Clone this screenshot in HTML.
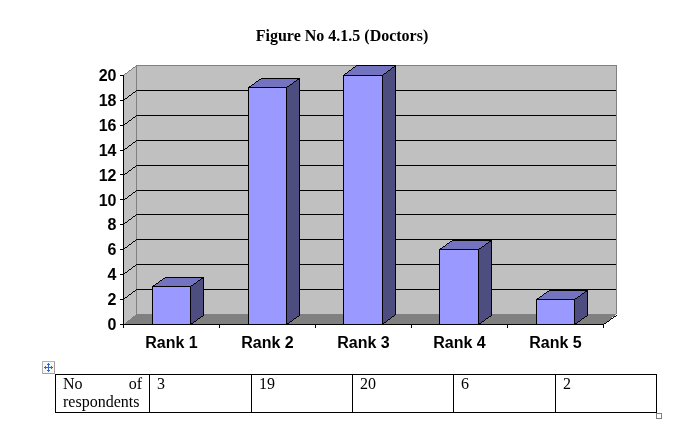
<!DOCTYPE html>
<html><head><meta charset="utf-8"><title>Figure No 4.1.5 (Doctors)</title>
<style>
html,body{margin:0;padding:0;background:#fff;}
body{width:699px;height:429px;position:relative;overflow:hidden;font-family:"Liberation Serif","Times New Roman",serif;color:#000;}
.title{position:absolute;left:0;width:684px;top:27px;text-align:center;font-weight:bold;font-size:16px;line-height:18px;}
svg{position:absolute;left:0;top:0;}
.yl{position:absolute;left:60.5px;width:56px;text-align:right;font:bold 16px/18px "Liberation Sans",Arial,sans-serif;}
.xl{position:absolute;top:334px;width:96px;text-align:center;font:bold 16px/18px "Liberation Sans",Arial,sans-serif;}
table{position:absolute;left:55px;top:374px;border-collapse:collapse;table-layout:fixed;font-size:16px;line-height:18px;}
td{border:1px solid #000;vertical-align:top;padding:0 7px;height:38px;box-sizing:border-box;}
.rs{position:absolute;left:656px;top:413px;width:4px;height:4px;border:1px solid #808080;background:#fff;}
</style></head><body>
<div class="title">Figure No 4.1.5 (Doctors)</div>
<svg width="699" height="429" viewBox="0 0 699 429" shape-rendering="crispEdges">
<rect x="136" y="65" width="481" height="249" fill="#c0c0c0"/>
<polygon points="123.5,324.5 136.5,314 136.5,65 123.5,75" fill="#c0c0c0"/>
<polygon points="123.5,324.5 136.5,314 617,314 603.5,324.5" fill="#808080"/>
<path d="M136 65h481v1h-481zM135 66h2v1h-2zM616 66h1v248h-1zM133 67h2v1h-2zM136 67h1v247h-1zM132 68h1v1h-1zM131 69h1v1h-1zM129 70h2v1h-2zM128 71h1v1h-1zM127 72h1v1h-1zM125 73h2v1h-2zM124 74h1v1h-1zM123 75h1v1h-1z" fill="#808080"/>
<path d="M136 90h480v1h-480zM135 91h1v1h-1zM133 92h2v1h-2zM132 93h1v1h-1zM131 94h1v1h-1zM129 95h2v1h-2zM128 96h1v1h-1zM127 97h1v1h-1zM125 98h2v1h-2zM124 99h1v1h-1zM123 100h1v1h-1zM136 115h480v1h-480zM135 116h1v1h-1zM133 117h2v1h-2zM132 118h1v1h-1zM131 119h1v1h-1zM129 120h2v1h-2zM128 121h1v1h-1zM127 122h1v1h-1zM125 123h2v1h-2zM124 124h1v1h-1zM123 125h1v1h-1zM136 140h480v1h-480zM135 141h1v1h-1zM133 142h2v1h-2zM132 143h1v1h-1zM131 144h1v1h-1zM129 145h2v1h-2zM128 146h1v1h-1zM127 147h1v1h-1zM125 148h2v1h-2zM124 149h1v1h-1zM123 150h1v1h-1zM136 165h480v1h-480zM135 166h1v1h-1zM133 167h2v1h-2zM132 168h1v1h-1zM131 169h1v1h-1zM129 170h2v1h-2zM128 171h1v1h-1zM127 172h1v1h-1zM125 173h2v1h-2zM124 174h1v1h-1zM123 175h1v1h-1zM136 190h480v1h-480zM135 191h1v1h-1zM133 192h2v1h-2zM132 193h1v1h-1zM131 194h1v1h-1zM129 195h2v1h-2zM128 196h1v1h-1zM127 197h1v1h-1zM125 198h2v1h-2zM124 199h1v1h-1zM123 200h1v1h-1zM136 214h480v1h-480zM135 215h1v1h-1zM133 216h2v1h-2zM132 217h1v1h-1zM131 218h1v1h-1zM129 219h2v1h-2zM128 220h1v1h-1zM127 221h1v1h-1zM125 222h2v1h-2zM124 223h1v1h-1zM123 224h1v1h-1zM136 239h480v1h-480zM135 240h1v1h-1zM133 241h2v1h-2zM132 242h1v1h-1zM131 243h1v1h-1zM129 244h2v1h-2zM128 245h1v1h-1zM127 246h1v1h-1zM125 247h2v1h-2zM124 248h1v1h-1zM123 249h1v1h-1zM136 264h480v1h-480zM135 265h1v1h-1zM133 266h2v1h-2zM132 267h1v1h-1zM131 268h1v1h-1zM129 269h2v1h-2zM128 270h1v1h-1zM127 271h1v1h-1zM125 272h2v1h-2zM124 273h1v1h-1zM123 274h1v1h-1zM136 289h480v1h-480zM135 290h1v1h-1zM133 291h2v1h-2zM132 292h1v1h-1zM131 293h1v1h-1zM129 294h2v1h-2zM128 295h1v1h-1zM127 296h1v1h-1zM125 297h2v1h-2zM124 298h1v1h-1zM123 299h1v1h-1zM616 315h1v1h-1zM614 316h2v1h-2zM613 317h1v1h-1zM611 318h2v1h-2zM610 319h1v1h-1zM609 320h1v1h-1zM607 321h2v1h-2zM606 322h1v1h-1zM604 323h2v1h-2zM603 324h1v1h-1z" fill="#000"/>
<polygon points="152.5,286.5 165.5,277.5 203.5,277.5 190.5,286.5" fill="#7373bf"/>
<polygon points="190.5,286.5 203.5,277.5 203.5,315.5 190.5,324.5" fill="#4d4d80"/>
<rect x="152" y="286" width="39" height="39" fill="#9999ff"/>
<path d="M165 277h39v1h-39zM163 278h2v1h-2zM201 278h3v1h-3zM162 279h1v1h-1zM200 279h1v1h-1zM203 279h1v37h-1zM160 280h2v1h-2zM198 280h2v1h-2zM159 281h1v1h-1zM197 281h1v1h-1zM158 282h1v1h-1zM196 282h1v1h-1zM156 283h2v1h-2zM194 283h2v1h-2zM155 284h1v1h-1zM193 284h1v1h-1zM153 285h2v1h-2zM191 285h2v1h-2zM152 286h39v1h-39zM152 287h1v38h-1zM190 287h1v36h-1zM201 316h2v1h-2zM200 317h1v1h-1zM198 318h2v1h-2zM197 319h1v1h-1zM196 320h1v1h-1zM194 321h2v1h-2zM193 322h1v1h-1zM190 323h3v1h-3zM190 324h1v1h-1z" fill="#000"/>
<polygon points="248.5,87.5 261.5,78.5 299.5,78.5 286.5,87.5" fill="#7373bf"/>
<polygon points="286.5,87.5 299.5,78.5 299.5,315.5 286.5,324.5" fill="#4d4d80"/>
<rect x="248" y="87" width="39" height="238" fill="#9999ff"/>
<path d="M261 78h39v1h-39zM259 79h2v1h-2zM297 79h3v1h-3zM258 80h1v1h-1zM296 80h1v1h-1zM299 80h1v236h-1zM256 81h2v1h-2zM294 81h2v1h-2zM255 82h1v1h-1zM293 82h1v1h-1zM254 83h1v1h-1zM292 83h1v1h-1zM252 84h2v1h-2zM290 84h2v1h-2zM251 85h1v1h-1zM289 85h1v1h-1zM249 86h2v1h-2zM287 86h2v1h-2zM248 87h39v1h-39zM248 88h1v237h-1zM286 88h1v235h-1zM297 316h2v1h-2zM296 317h1v1h-1zM294 318h2v1h-2zM293 319h1v1h-1zM292 320h1v1h-1zM290 321h2v1h-2zM289 322h1v1h-1zM286 323h3v1h-3zM286 324h1v1h-1z" fill="#000"/>
<polygon points="343.5,75.5 356.5,65.5 395.5,65.5 382.5,75.5" fill="#7373bf"/>
<polygon points="382.5,75.5 395.5,65.5 395.5,314.5 382.5,324.5" fill="#4d4d80"/>
<rect x="343" y="75" width="40" height="250" fill="#9999ff"/>
<path d="M356 65h40v1h-40zM355 66h1v1h-1zM394 66h2v1h-2zM353 67h2v1h-2zM392 67h2v1h-2zM395 67h1v248h-1zM352 68h1v1h-1zM391 68h1v1h-1zM351 69h1v1h-1zM390 69h1v1h-1zM349 70h2v1h-2zM388 70h2v1h-2zM348 71h1v1h-1zM387 71h1v1h-1zM347 72h1v1h-1zM386 72h1v1h-1zM345 73h2v1h-2zM384 73h2v1h-2zM344 74h1v1h-1zM383 74h1v1h-1zM343 75h40v1h-40zM343 76h1v249h-1zM382 76h1v247h-1zM394 315h1v1h-1zM392 316h2v1h-2zM391 317h1v1h-1zM390 318h1v1h-1zM388 319h2v1h-2zM387 320h1v1h-1zM386 321h1v1h-1zM384 322h2v1h-2zM382 323h2v1h-2zM382 324h1v1h-1z" fill="#000"/>
<polygon points="439.5,249.5 452.5,240.5 491.5,240.5 478.5,249.5" fill="#7373bf"/>
<polygon points="478.5,249.5 491.5,240.5 491.5,315.5 478.5,324.5" fill="#4d4d80"/>
<rect x="439" y="249" width="40" height="76" fill="#9999ff"/>
<path d="M452 240h40v1h-40zM450 241h2v1h-2zM489 241h3v1h-3zM449 242h1v1h-1zM488 242h1v1h-1zM491 242h1v74h-1zM447 243h2v1h-2zM486 243h2v1h-2zM446 244h1v1h-1zM485 244h1v1h-1zM445 245h1v1h-1zM484 245h1v1h-1zM443 246h2v1h-2zM482 246h2v1h-2zM442 247h1v1h-1zM481 247h1v1h-1zM440 248h2v1h-2zM479 248h2v1h-2zM439 249h40v1h-40zM439 250h1v75h-1zM478 250h1v73h-1zM489 316h2v1h-2zM488 317h1v1h-1zM486 318h2v1h-2zM485 319h1v1h-1zM484 320h1v1h-1zM482 321h2v1h-2zM481 322h1v1h-1zM478 323h3v1h-3zM478 324h1v1h-1z" fill="#000"/>
<polygon points="536.5,299.5 549.5,290.5 587.5,290.5 574.5,299.5" fill="#7373bf"/>
<polygon points="574.5,299.5 587.5,290.5 587.5,315.5 574.5,324.5" fill="#4d4d80"/>
<rect x="536" y="299" width="39" height="26" fill="#9999ff"/>
<path d="M549 290h39v1h-39zM547 291h2v1h-2zM585 291h3v1h-3zM546 292h1v1h-1zM584 292h1v1h-1zM587 292h1v24h-1zM544 293h2v1h-2zM582 293h2v1h-2zM543 294h1v1h-1zM581 294h1v1h-1zM542 295h1v1h-1zM580 295h1v1h-1zM540 296h2v1h-2zM578 296h2v1h-2zM539 297h1v1h-1zM577 297h1v1h-1zM537 298h2v1h-2zM575 298h2v1h-2zM536 299h39v1h-39zM536 300h1v25h-1zM574 300h1v23h-1zM585 316h2v1h-2zM584 317h1v1h-1zM582 318h2v1h-2zM581 319h1v1h-1zM580 320h1v1h-1zM578 321h2v1h-2zM577 322h1v1h-1zM574 323h3v1h-3zM574 324h1v1h-1z" fill="#000"/>
<path d="M120 75h4v1h-4zM123 76h1v24h-1zM120 100h4v1h-4zM123 101h1v24h-1zM120 125h4v1h-4zM123 126h1v24h-1zM120 150h4v1h-4zM123 151h1v23h-1zM120 174h4v1h-4zM123 175h1v24h-1zM120 199h4v1h-4zM123 200h1v24h-1zM120 224h4v1h-4zM123 225h1v24h-1zM120 249h4v1h-4zM123 250h1v24h-1zM120 274h4v1h-4zM123 275h1v24h-1zM120 299h4v1h-4zM123 300h1v24h-1zM120 324h484v1h-484zM123 325h1v3h-1zM219 325h1v3h-1zM315 325h1v3h-1zM411 325h1v3h-1zM507 325h1v3h-1zM603 325h1v3h-1z" fill="#000"/>
<rect x="42.5" y="361.5" width="12" height="12" fill="#f6f6f6" stroke="#b4b4b4"/>
<path d="M43 373.5h12M54.5 362v12" stroke="#a0a0a0" fill="none"/>
<path d="M48 363h1v1h-1zM47 364h3v1h-3zM48 365h1v2h-1zM45 366h1v1h-1zM51 366h1v1h-1zM44 367h9v1h-9zM45 368h1v1h-1zM48 368h1v2h-1zM51 368h1v1h-1zM47 370h3v1h-3zM48 371h1v1h-1z" fill="#3366cc"/>
</svg>
<div class="yl" style="top:316.0px">0</div>
<div class="yl" style="top:291.1px">2</div>
<div class="yl" style="top:266.2px">4</div>
<div class="yl" style="top:241.3px">6</div>
<div class="yl" style="top:216.4px">8</div>
<div class="yl" style="top:191.5px">10</div>
<div class="yl" style="top:166.6px">12</div>
<div class="yl" style="top:141.7px">14</div>
<div class="yl" style="top:116.8px">16</div>
<div class="yl" style="top:91.9px">18</div>
<div class="yl" style="top:67.0px">20</div>
<div class="xl" style="left:123.5px">Rank 1</div>
<div class="xl" style="left:219.5px">Rank 2</div>
<div class="xl" style="left:315.5px">Rank 3</div>
<div class="xl" style="left:411.5px">Rank 4</div>
<div class="xl" style="left:507.5px">Rank 5</div>

<table><colgroup><col style="width:94px"><col style="width:102px"><col style="width:101px"><col style="width:101px"><col style="width:102px"><col style="width:101px"></colgroup>
<tr><td><div style="text-align:justify;text-align-last:justify">No of</div><div>respondents</div></td><td>3</td><td>19</td><td>20</td><td>6</td><td>2</td></tr></table>
<div class="rs"></div>
</body></html>
